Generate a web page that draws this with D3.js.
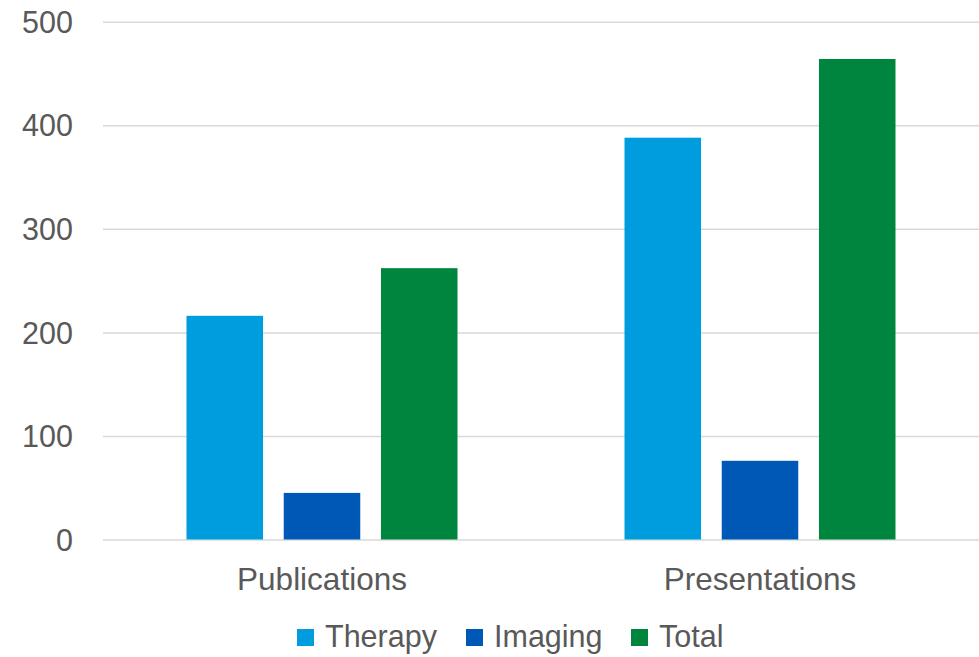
<!DOCTYPE html>
<html><head><meta charset="utf-8">
<script src="https://cdn.jsdelivr.net/npm/d3@7"></script>
<style>html,body{margin:0;padding:0;background:#fff;}svg{display:block;}</style>
</head><body>
<svg id="chart" width="979" height="657"></svg>
<script>
const categories = ["Publications", "Presentations"];
const seriesNames = ["Therapy", "Imaging", "Total"];
const therapyValues = [216, 388];
const imagingValues = [45, 76];
const totalValues = [262, 464];
const yTicks = [0, 100, 200, 300, 400, 500];
const colors = ["#009DDE", "#0058B6", "#00853E"];

const seriesValues = [therapyValues, imagingValues, totalValues];
const svg = d3.select("#chart");
const font = "'Liberation Sans', Arial, sans-serif";
const textColor = "#595959";

const plotLeft = 103, plotRight = 979, plotTop = 21.7, plotBottom = 539.5;
const y = d3.scaleLinear().domain([0, 500]).range([plotBottom, plotTop]);
const x0 = d3.scaleBand().domain(categories).range([plotLeft, plotRight]).padding(0);
const groupPad = 83.5;
const x1 = d3.scaleBand().domain(seriesNames)
  .range([groupPad, x0.bandwidth() - groupPad]).paddingInner(0.213).paddingOuter(0);

// gridlines
const yAxis = d3.axisLeft(y).tickValues(yTicks).tickSize(-(plotRight - plotLeft)).tickPadding(30).tickFormat(d3.format("d"));
const gAxis = svg.append("g").attr("transform", `translate(${plotLeft},0)`).call(yAxis);
gAxis.select(".domain").remove();
gAxis.selectAll(".tick line").attr("stroke", "#D9D9D9").attr("stroke-width", 1.5);
gAxis.selectAll(".tick text").attr("font-family", font).attr("font-size", 30.5)
  .attr("fill", textColor).attr("x", -30).attr("dy", "0.35em");

// bars
const data = [];
categories.forEach((c, i) => seriesNames.forEach((s, j) => data.push({c, s, j, v: seriesValues[j][i]})));
svg.append("g").selectAll("rect").data(data).join("rect")
  .attr("x", d => x0(d.c) + x1(d.s))
  .attr("width", x1.bandwidth())
  .attr("y", d => y(d.v))
  .attr("height", d => y(0) - y(d.v))
  .attr("fill", d => colors[d.j]);

// category labels
const xAxis = d3.axisBottom(x0).tickSize(0).tickPadding(0);
const gx = svg.append("g").attr("transform", `translate(0,${plotBottom})`).call(xAxis);
gx.select(".domain").remove();
gx.selectAll(".tick text").attr("font-family", font).attr("font-size", 31.5)
  .attr("fill", textColor).attr("y", 50.5).attr("dy", 0);

// legend
const legendX = [297, 466, 631];
const lg = svg.append("g");
seriesNames.forEach((s, j) => {
  const g = lg.append("g").attr("transform", `translate(${legendX[j]},629)`);
  g.append("rect").attr("width", 17).attr("height", 17).attr("fill", colors[j]);
  g.append("text").attr("x", 28).attr("y", 17.7).text(s)
    .attr("font-family", font).attr("font-size", 30.5).attr("fill", textColor);
});
</script>
</body></html>
